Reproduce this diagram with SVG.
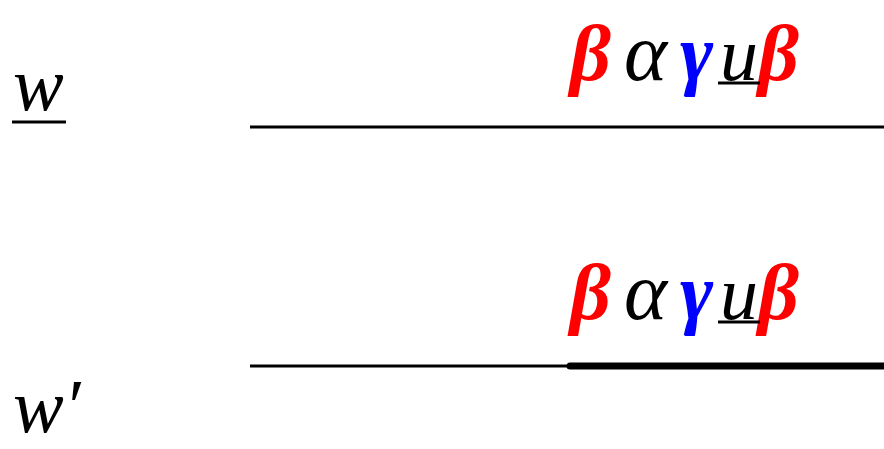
<svg xmlns="http://www.w3.org/2000/svg" width="884" height="449" viewBox="0 0 884 449">
<style>
.t{font-family:"Liberation Serif","Times New Roman",serif;font-style:italic;font-size:76px}
.g{font-size:80px;font-weight:bold}
.a{font-size:82px}
.r{fill:#ff0000}.k{fill:#000}.b{fill:#0000ff}
.ln{stroke:#000;stroke-width:3;fill:none}
</style>
<rect width="884" height="449" fill="#fff"/>
<g id="labelW">
<text class="t k" x="13" y="110">w</text>
<line class="ln" x1="12" y1="122" x2="66" y2="122"/>
</g>
<g id="labelW2">
<text class="t k" x="13" y="432">w′</text>
</g>
<g id="top">
<text class="t" y="80"><tspan class="r g" x="570">β</tspan><tspan class="k a" x="624">α</tspan><tspan class="b g" x="680">γ</tspan><tspan class="k" x="720">u</tspan><tspan class="r g" x="758">β</tspan></text>
<line class="ln" x1="718" y1="83" x2="760" y2="83"/>
</g>
<g id="bottom">
<text class="t" y="319"><tspan class="r g" x="570">β</tspan><tspan class="k a" x="624">α</tspan><tspan class="b g" x="680">γ</tspan><tspan class="k" x="720">u</tspan><tspan class="r g" x="758">β</tspan></text>
<line class="ln" x1="718" y1="322" x2="760" y2="322"/>
</g>
<g id="connectors">
<line class="ln" x1="250" y1="127" x2="884" y2="127"/>
<line class="ln" x1="250" y1="366" x2="570" y2="366"/>
<line x1="570" y1="366" x2="884" y2="366" stroke="#000" stroke-width="7" stroke-linecap="round"/>
</g>
</svg>
